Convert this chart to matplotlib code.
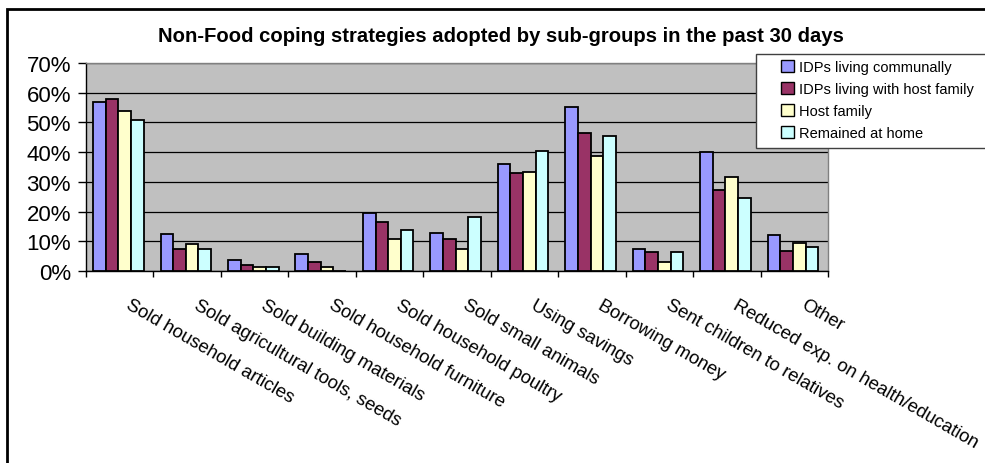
import matplotlib
matplotlib.use("Agg")
import matplotlib.pyplot as plt
import matplotlib.transforms as mtransforms
from matplotlib.patches import Rectangle, Patch
from matplotlib.ticker import PercentFormatter
import numpy as np

plt.rcParams['font.family'] = ['Liberation Sans', 'DejaVu Sans']

categories = [
    "Sold household articles",
    "Sold agricultural tools, seeds",
    "Sold building materials",
    "Sold household furniture",
    "Sold household poultry",
    "Sold small animals",
    "Using savings",
    "Borrowing money",
    "Sent children to relatives",
    "Reduced exp. on health/education",
    "Other",
]
series_names = [
    "IDPs living communally",
    "IDPs living with host family",
    "Host family",
    "Remained at home",
]
idps_communal = [56.8, 12.3, 3.6, 5.7, 19.4, 12.9, 36.1, 55.1, 7.4, 40.0, 12.2]
idps_host = [57.9, 7.4, 2.0, 3.1, 16.6, 10.7, 32.9, 46.4, 6.3, 27.4, 6.7]
host_family = [54.0, 9.0, 1.5, 1.5, 10.7, 7.4, 33.4, 38.8, 3.1, 31.7, 9.5]
remained_home = [50.8, 7.4, 1.5, 0.0, 13.9, 18.3, 40.5, 45.4, 6.3, 24.7, 8.1]
series_values = [idps_communal, idps_host, host_family, remained_home]
colors = ["#9999FF", "#993366", "#FFFFCC", "#CCFFFF"]
title = "Non-Food coping strategies adopted by sub-groups in the past 30 days"

W, H = 985, 464
fig = plt.figure(figsize=(W / 100, H / 100), dpi=100)
fig.patch.set_facecolor("white")

# outer chart frame
fig.patches.append(Rectangle((7 / W, 1 - 600 / H), 1100 / W, 590 / H,
                             transform=fig.transFigure, fill=False,
                             edgecolor="black", linewidth=2))

left, right, top, bottom = 86, 828, 64, 272
ax = fig.add_axes([left / W, 1 - bottom / H, (right - left) / W, (bottom - top) / H])
ax.set_facecolor("#C0C0C0")

x = np.arange(len(categories))
bw = 0.1875
for i, (vals, col) in enumerate(zip(series_values, colors)):
    ax.bar(x + (i - 1.5) * bw - 0.02, vals, width=bw, color=col,
           edgecolor="black", linewidth=1.3, zorder=3)

ax.set_xlim(-0.5, len(categories) - 0.5)
ax.set_ylim(0, 70)
ax.set_yticks(np.arange(0, 71, 10))
ax.yaxis.set_major_formatter(PercentFormatter(decimals=0))
ax.tick_params(axis="y", length=5.8, width=1, pad=5.0, labelsize=16, direction="out")
ax.grid(axis="y", color="black", linewidth=0.9, zorder=1)
ax.set_axisbelow(True)

ax.set_xticks(np.arange(-0.5, len(categories), 1.0))
ax.tick_params(axis="x", which="major", length=4.5, width=1, labelbottom=False, direction="out")
ax.set_xticks(x, categories, minor=True)
ax.tick_params(axis="x", which="minor", length=0, pad=18.0, labelsize=13.3)
shift = mtransforms.ScaledTranslation(12 / 100, 0, fig.dpi_scale_trans)
for lab in ax.get_xticklabels(minor=True):
    lab.set_rotation(-30)
    lab.set_ha("left")
    lab.set_va("top")
    lab.set_rotation_mode("anchor")
    lab.set_transform(lab.get_transform() + shift)

for side in ("left", "bottom"):
    ax.spines[side].set_color("black")
    ax.spines[side].set_linewidth(1.0)
for side in ("top", "right"):
    ax.spines[side].set_color("#808080")
    ax.spines[side].set_linewidth(1.0)

fig.text(501 / W, 1 - 36 / H, title, ha="center", va="center",
         fontsize=14.6, fontweight="bold")

# legend box
fig.patches.append(Rectangle((756 / W, 1 - 149 / H), 300 / W, 94 / H,
                             transform=fig.transFigure, facecolor="white",
                             edgecolor="#404040", linewidth=1, zorder=5))
handles = [Patch(facecolor=c, edgecolor="black", linewidth=1) for c in colors]
fig.legend(handles, series_names, loc="upper left",
           bbox_to_anchor=(781 / W, 1 - 61 / H), frameon=False,
           fontsize=10.5, handlelength=0.9, handleheight=0.9,
           handletextpad=0.35, labelspacing=0.55, borderpad=0,
           borderaxespad=0)

fig.savefig("out.png", dpi=100, facecolor="white")
